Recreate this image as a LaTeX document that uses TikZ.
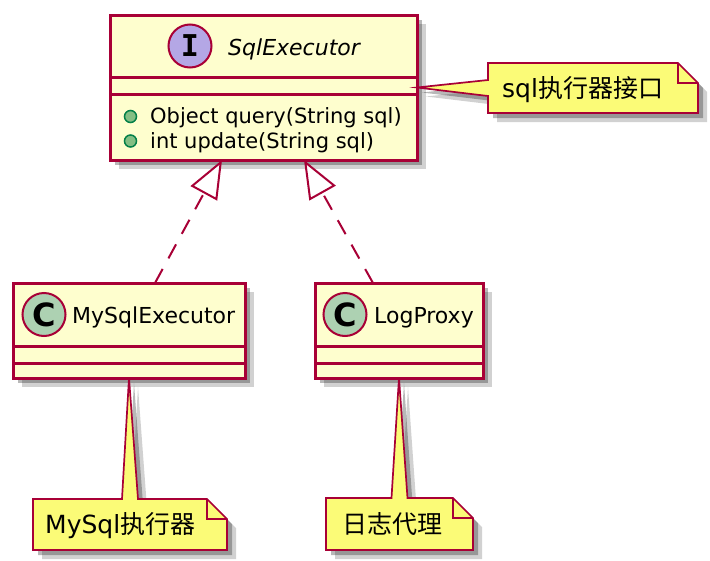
\documentclass[tikz,border=0pt]{standalone}
\usepackage{fontspec}
\setmainfont{DejaVu Sans}
\newfontfamily\cjk{Noto Sans CJK SC}
\newfontfamily\spotfont{DejaVu Sans Mono}
\usetikzlibrary{arrows.meta,shadows}
\definecolor{umlborder}{HTML}{A80036}
\definecolor{umlfill}{HTML}{FEFECE}
\definecolor{notefill}{HTML}{FBFB77}
\definecolor{ifacespot}{HTML}{B4A7E5}
\definecolor{classspot}{HTML}{ADD1B2}
\definecolor{pubfill}{HTML}{84BE84}
\definecolor{pubborder}{HTML}{038048}

\begin{document}
\begin{tikzpicture}[x=1pt, y=-1pt,
  umlshadow/.style={drop shadow={shadow xshift=9pt, shadow yshift=-9pt, opacity=.18, fill=black},
    drop shadow={shadow xshift=5pt, shadow yshift=-5pt, opacity=.28, fill=black}},
  classbox/.style={draw=umlborder, fill=umlfill, line width=3pt, inner sep=0pt, outer sep=0pt, umlshadow},
  divider/.style={draw=umlborder, line width=3pt},
  spot/.style={circle, draw=umlborder, line width=2pt, minimum size=43pt, inner sep=0pt},
  classname/.style={anchor=base west, inner sep=0pt, font=\fontsize{22}{26}\selectfont},
  member/.style={anchor=base west, inner sep=0pt, font=\fontsize{21}{25}\selectfont},
  pubdot/.style={circle, draw=pubborder, fill=pubfill, line width=1.5pt, minimum size=12pt, inner sep=0pt},
  noteframe/.style={inner sep=0pt, outer sep=0pt},
  notebox/.style={draw=umlborder, fill=notefill, line width=1.7pt, line join=miter, umlshadow},
  notefold/.style={draw=umlborder, line width=1.7pt},
  notetext/.style={anchor=base west, inner sep=0pt, font=\fontsize{25}{30}\selectfont},
  realize/.style={draw=umlborder, line width=2pt, dash pattern=on 16pt off 12pt,
    -{Triangle[fill=white, length=38pt, width=30pt]}}]
  \useasboundingbox (0,0) rectangle (710,560);

  % interface
  \node[classbox, minimum width=307pt, minimum height=145pt] (sqlexec) at (263.5,87.5) {};
  \draw[divider] ([yshift=-62.5pt]sqlexec.north west) -- ([yshift=-62.5pt]sqlexec.north east);
  \draw[divider] ([yshift=-79pt]sqlexec.north west) -- ([yshift=-79pt]sqlexec.north east);
  \node[spot, fill=ifacespot] (sqlspot) at (190,46) {\spotfont\bfseries\fontsize{30}{30}\selectfont I};
  \node[classname] (sqlname) at (228,55) {\itshape SqlExecutor};
  \node[pubdot] (querydot) at (130.5,116.5) {};
  \node[member] (query) at (150,123) {Object query(String sql)};
  \node[pubdot] (updatedot) at (130.5,141) {};
  \node[member] (update) at (150,148) {int update(String sql)};

  % classes
  \node[classbox, minimum width=232pt, minimum height=95pt] (mysqlexec) at (129,330.5) {};
  \draw[divider] ([yshift=-63pt]mysqlexec.north west) -- ([yshift=-63pt]mysqlexec.north east);
  \draw[divider] ([yshift=-80pt]mysqlexec.north west) -- ([yshift=-80pt]mysqlexec.north east);
  \node[spot, fill=classspot] (mysqlspot) at (44,314.5) {\bfseries\fontsize{32}{32}\selectfont C};
  \node[classname] (mysqlname) at (72,323) {MySqlExecutor};

  \node[classbox, minimum width=168pt, minimum height=95pt] (logproxy) at (399,330.5) {};
  \draw[divider] ([yshift=-63pt]logproxy.north west) -- ([yshift=-63pt]logproxy.north east);
  \draw[divider] ([yshift=-80pt]logproxy.north west) -- ([yshift=-80pt]logproxy.north east);
  \node[spot, fill=classspot] (logspot) at (345,314.5) {\bfseries\fontsize{32}{32}\selectfont C};
  \node[classname] (logname) at (374,323) {LogProxy};

  % notes
  \node[noteframe, minimum width=210pt, minimum height=50pt] (sqlnote) at (593,88) {};
  \draw[notebox] (sqlnote.north west) -- ([xshift=-20pt]sqlnote.north east)
    -- ([yshift=-20pt]sqlnote.north east) -- (sqlnote.south east) -- (sqlnote.south west)
    -- ([yshift=-8pt]sqlnote.west) -- (sqlexec.east) -- ([yshift=8pt]sqlnote.west) -- cycle;
  \draw[notefold] ([xshift=-20pt]sqlnote.north east) -- ([xshift=-20pt,yshift=-20pt]sqlnote.north east)
    -- ([yshift=-20pt]sqlnote.north east);
  \node[notetext] (sqlnotetext) at (502,97) {sql{\cjk 执行器接口}};

  \node[noteframe, minimum width=194pt, minimum height=51pt] (mysqlnote) at (130,524.5) {};
  \draw[notebox] (mysqlnote.north west) -- ([xshift=-8pt]mysqlnote.north) -- (mysqlexec.south)
    -- ([xshift=8pt]mysqlnote.north) -- ([xshift=-20pt]mysqlnote.north east)
    -- ([yshift=-20pt]mysqlnote.north east) -- (mysqlnote.south east) -- (mysqlnote.south west) -- cycle;
  \draw[notefold] ([xshift=-20pt]mysqlnote.north east) -- ([xshift=-20pt,yshift=-20pt]mysqlnote.north east)
    -- ([yshift=-20pt]mysqlnote.north east);
  \node[notetext] (mysqlnotetext) at (45,533) {MySql{\cjk 执行器}};

  \node[noteframe, minimum width=147pt, minimum height=52pt] (lognote) at (399.5,524) {};
  \draw[notebox] (lognote.north west) -- ([xshift=-8pt]lognote.north) -- (logproxy.south)
    -- ([xshift=8pt]lognote.north) -- ([xshift=-20pt]lognote.north east)
    -- ([yshift=-20pt]lognote.north east) -- (lognote.south east) -- (lognote.south west) -- cycle;
  \draw[notefold] ([xshift=-20pt]lognote.north east) -- ([xshift=-20pt,yshift=-20pt]lognote.north east)
    -- ([yshift=-20pt]lognote.north east);
  \node[notetext] (lognotetext) at (342,533) {\cjk 日志代理};

  % realizations
  \draw[realize] ([xshift=26pt]mysqlexec.north) -- ([xshift=-41.5pt]sqlexec.south);
  \draw[realize] ([xshift=-26pt]logproxy.north) -- ([xshift=40.5pt]sqlexec.south);
\end{tikzpicture}
\end{document}
